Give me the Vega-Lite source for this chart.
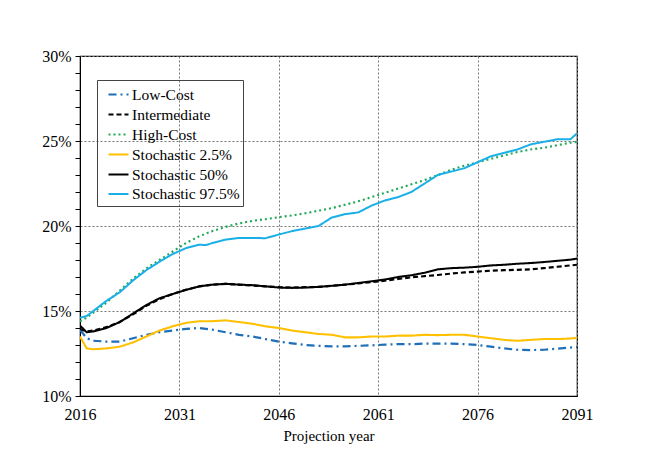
{
  "$schema": "https://vega.github.io/schema/vega-lite/v6.json",
  "width": 497,
  "height": 340,
  "autosize": {"type": "none"},
  "padding": {"left": 80, "top": 56, "right": 71, "bottom": 72},
  "background": "white",
  "config": {
    "font": "Liberation Serif",
    "view": {"stroke": "black", "strokeWidth": 1.2},
    "legend": {"rowPadding": -10, "symbolSize": 400, "symbolType": "stroke", "labelFontSize": 15.5}
  },
  "datasets": {
    "d": [
      {"s":"Low-Cost","yr":2016,"v":13.9},{"s":"Low-Cost","yr":2017,"v":13.4},{"s":"Low-Cost","yr":2018,"v":13.25},{"s":"Low-Cost","yr":2020,"v":13.2},{"s":"Low-Cost","yr":2022,"v":13.2},{"s":"Low-Cost","yr":2024,"v":13.4},{"s":"Low-Cost","yr":2026,"v":13.6},{"s":"Low-Cost","yr":2028,"v":13.75},{"s":"Low-Cost","yr":2030,"v":13.85},{"s":"Low-Cost","yr":2032,"v":13.95},{"s":"Low-Cost","yr":2034,"v":14.0},{"s":"Low-Cost","yr":2036,"v":13.9},{"s":"Low-Cost","yr":2038,"v":13.75},{"s":"Low-Cost","yr":2040,"v":13.6},{"s":"Low-Cost","yr":2042,"v":13.5},{"s":"Low-Cost","yr":2044,"v":13.35},{"s":"Low-Cost","yr":2046,"v":13.2},{"s":"Low-Cost","yr":2048,"v":13.1},{"s":"Low-Cost","yr":2050,"v":13.0},{"s":"Low-Cost","yr":2052,"v":12.95},{"s":"Low-Cost","yr":2054,"v":12.92},{"s":"Low-Cost","yr":2056,"v":12.92},{"s":"Low-Cost","yr":2058,"v":12.95},{"s":"Low-Cost","yr":2060,"v":12.98},{"s":"Low-Cost","yr":2062,"v":13.02},{"s":"Low-Cost","yr":2064,"v":13.05},{"s":"Low-Cost","yr":2066,"v":13.05},{"s":"Low-Cost","yr":2068,"v":13.08},{"s":"Low-Cost","yr":2070,"v":13.08},{"s":"Low-Cost","yr":2072,"v":13.08},{"s":"Low-Cost","yr":2074,"v":13.05},{"s":"Low-Cost","yr":2076,"v":13.0},{"s":"Low-Cost","yr":2078,"v":12.9},{"s":"Low-Cost","yr":2080,"v":12.8},{"s":"Low-Cost","yr":2082,"v":12.72},{"s":"Low-Cost","yr":2084,"v":12.7},{"s":"Low-Cost","yr":2086,"v":12.72},{"s":"Low-Cost","yr":2088,"v":12.78},{"s":"Low-Cost","yr":2090,"v":12.85},{"s":"Low-Cost","yr":2091,"v":12.88},

      {"s":"Intermediate","yr":2016,"v":13.95},{"s":"Intermediate","yr":2017,"v":13.8},{"s":"Intermediate","yr":2018,"v":13.85},{"s":"Intermediate","yr":2020,"v":14.05},{"s":"Intermediate","yr":2022,"v":14.35},{"s":"Intermediate","yr":2024,"v":14.8},{"s":"Intermediate","yr":2026,"v":15.3},{"s":"Intermediate","yr":2028,"v":15.7},{"s":"Intermediate","yr":2030,"v":16.0},{"s":"Intermediate","yr":2032,"v":16.25},{"s":"Intermediate","yr":2034,"v":16.45},{"s":"Intermediate","yr":2036,"v":16.55},{"s":"Intermediate","yr":2038,"v":16.6},{"s":"Intermediate","yr":2040,"v":16.55},{"s":"Intermediate","yr":2042,"v":16.5},{"s":"Intermediate","yr":2044,"v":16.45},{"s":"Intermediate","yr":2046,"v":16.4},{"s":"Intermediate","yr":2048,"v":16.38},{"s":"Intermediate","yr":2050,"v":16.4},{"s":"Intermediate","yr":2052,"v":16.42},{"s":"Intermediate","yr":2054,"v":16.48},{"s":"Intermediate","yr":2056,"v":16.55},{"s":"Intermediate","yr":2058,"v":16.62},{"s":"Intermediate","yr":2060,"v":16.7},{"s":"Intermediate","yr":2062,"v":16.78},{"s":"Intermediate","yr":2064,"v":16.88},{"s":"Intermediate","yr":2066,"v":16.98},{"s":"Intermediate","yr":2068,"v":17.05},{"s":"Intermediate","yr":2070,"v":17.12},{"s":"Intermediate","yr":2072,"v":17.2},{"s":"Intermediate","yr":2074,"v":17.27},{"s":"Intermediate","yr":2076,"v":17.32},{"s":"Intermediate","yr":2078,"v":17.37},{"s":"Intermediate","yr":2080,"v":17.4},{"s":"Intermediate","yr":2082,"v":17.42},{"s":"Intermediate","yr":2084,"v":17.45},{"s":"Intermediate","yr":2086,"v":17.52},{"s":"Intermediate","yr":2088,"v":17.6},{"s":"Intermediate","yr":2090,"v":17.68},{"s":"Intermediate","yr":2091,"v":17.72},

      {"s":"High-Cost","yr":2016,"v":14.4},{"s":"High-Cost","yr":2017,"v":14.6},{"s":"High-Cost","yr":2018,"v":14.9},{"s":"High-Cost","yr":2020,"v":15.5},{"s":"High-Cost","yr":2022,"v":16.2},{"s":"High-Cost","yr":2024,"v":16.9},{"s":"High-Cost","yr":2026,"v":17.5},{"s":"High-Cost","yr":2028,"v":18.0},{"s":"High-Cost","yr":2030,"v":18.5},{"s":"High-Cost","yr":2032,"v":19.0},{"s":"High-Cost","yr":2034,"v":19.4},{"s":"High-Cost","yr":2036,"v":19.7},{"s":"High-Cost","yr":2038,"v":19.95},{"s":"High-Cost","yr":2040,"v":20.15},{"s":"High-Cost","yr":2042,"v":20.3},{"s":"High-Cost","yr":2044,"v":20.4},{"s":"High-Cost","yr":2046,"v":20.52},{"s":"High-Cost","yr":2048,"v":20.62},{"s":"High-Cost","yr":2050,"v":20.75},{"s":"High-Cost","yr":2052,"v":20.9},{"s":"High-Cost","yr":2054,"v":21.05},{"s":"High-Cost","yr":2056,"v":21.25},{"s":"High-Cost","yr":2058,"v":21.45},{"s":"High-Cost","yr":2060,"v":21.7},{"s":"High-Cost","yr":2062,"v":21.95},{"s":"High-Cost","yr":2064,"v":22.2},{"s":"High-Cost","yr":2066,"v":22.45},{"s":"High-Cost","yr":2068,"v":22.7},{"s":"High-Cost","yr":2070,"v":23.0},{"s":"High-Cost","yr":2072,"v":23.3},{"s":"High-Cost","yr":2074,"v":23.55},{"s":"High-Cost","yr":2076,"v":23.75},{"s":"High-Cost","yr":2078,"v":23.95},{"s":"High-Cost","yr":2080,"v":24.15},{"s":"High-Cost","yr":2082,"v":24.35},{"s":"High-Cost","yr":2084,"v":24.5},{"s":"High-Cost","yr":2086,"v":24.6},{"s":"High-Cost","yr":2088,"v":24.75},{"s":"High-Cost","yr":2090,"v":24.9},{"s":"High-Cost","yr":2091,"v":24.95},

      {"s":"Stochastic 2.5%","yr":2016,"v":13.5},{"s":"Stochastic 2.5%","yr":2017,"v":12.8},{"s":"Stochastic 2.5%","yr":2018,"v":12.75},{"s":"Stochastic 2.5%","yr":2020,"v":12.8},{"s":"Stochastic 2.5%","yr":2022,"v":12.9},{"s":"Stochastic 2.5%","yr":2024,"v":13.15},{"s":"Stochastic 2.5%","yr":2026,"v":13.5},{"s":"Stochastic 2.5%","yr":2028,"v":13.85},{"s":"Stochastic 2.5%","yr":2030,"v":14.1},{"s":"Stochastic 2.5%","yr":2032,"v":14.3},{"s":"Stochastic 2.5%","yr":2034,"v":14.4},{"s":"Stochastic 2.5%","yr":2036,"v":14.4},{"s":"Stochastic 2.5%","yr":2038,"v":14.45},{"s":"Stochastic 2.5%","yr":2040,"v":14.35},{"s":"Stochastic 2.5%","yr":2042,"v":14.25},{"s":"Stochastic 2.5%","yr":2044,"v":14.1},{"s":"Stochastic 2.5%","yr":2046,"v":14.0},{"s":"Stochastic 2.5%","yr":2048,"v":13.85},{"s":"Stochastic 2.5%","yr":2050,"v":13.75},{"s":"Stochastic 2.5%","yr":2052,"v":13.65},{"s":"Stochastic 2.5%","yr":2054,"v":13.6},{"s":"Stochastic 2.5%","yr":2056,"v":13.45},{"s":"Stochastic 2.5%","yr":2058,"v":13.45},{"s":"Stochastic 2.5%","yr":2060,"v":13.5},{"s":"Stochastic 2.5%","yr":2062,"v":13.5},{"s":"Stochastic 2.5%","yr":2064,"v":13.55},{"s":"Stochastic 2.5%","yr":2066,"v":13.55},{"s":"Stochastic 2.5%","yr":2068,"v":13.6},{"s":"Stochastic 2.5%","yr":2070,"v":13.58},{"s":"Stochastic 2.5%","yr":2072,"v":13.6},{"s":"Stochastic 2.5%","yr":2074,"v":13.6},{"s":"Stochastic 2.5%","yr":2076,"v":13.5},{"s":"Stochastic 2.5%","yr":2078,"v":13.4},{"s":"Stochastic 2.5%","yr":2080,"v":13.3},{"s":"Stochastic 2.5%","yr":2082,"v":13.25},{"s":"Stochastic 2.5%","yr":2084,"v":13.3},{"s":"Stochastic 2.5%","yr":2086,"v":13.35},{"s":"Stochastic 2.5%","yr":2088,"v":13.35},{"s":"Stochastic 2.5%","yr":2090,"v":13.38},{"s":"Stochastic 2.5%","yr":2091,"v":13.42},

      {"s":"Stochastic 50%","yr":2016,"v":14.15},{"s":"Stochastic 50%","yr":2017,"v":13.75},{"s":"Stochastic 50%","yr":2018,"v":13.8},{"s":"Stochastic 50%","yr":2020,"v":14.0},{"s":"Stochastic 50%","yr":2022,"v":14.35},{"s":"Stochastic 50%","yr":2024,"v":14.85},{"s":"Stochastic 50%","yr":2026,"v":15.35},{"s":"Stochastic 50%","yr":2028,"v":15.75},{"s":"Stochastic 50%","yr":2030,"v":16.0},{"s":"Stochastic 50%","yr":2032,"v":16.25},{"s":"Stochastic 50%","yr":2034,"v":16.45},{"s":"Stochastic 50%","yr":2036,"v":16.55},{"s":"Stochastic 50%","yr":2038,"v":16.6},{"s":"Stochastic 50%","yr":2040,"v":16.55},{"s":"Stochastic 50%","yr":2042,"v":16.52},{"s":"Stochastic 50%","yr":2044,"v":16.45},{"s":"Stochastic 50%","yr":2046,"v":16.38},{"s":"Stochastic 50%","yr":2048,"v":16.36},{"s":"Stochastic 50%","yr":2050,"v":16.38},{"s":"Stochastic 50%","yr":2052,"v":16.42},{"s":"Stochastic 50%","yr":2054,"v":16.48},{"s":"Stochastic 50%","yr":2056,"v":16.55},{"s":"Stochastic 50%","yr":2058,"v":16.65},{"s":"Stochastic 50%","yr":2060,"v":16.75},{"s":"Stochastic 50%","yr":2062,"v":16.85},{"s":"Stochastic 50%","yr":2064,"v":17.0},{"s":"Stochastic 50%","yr":2066,"v":17.1},{"s":"Stochastic 50%","yr":2068,"v":17.25},{"s":"Stochastic 50%","yr":2070,"v":17.45},{"s":"Stochastic 50%","yr":2072,"v":17.52},{"s":"Stochastic 50%","yr":2074,"v":17.55},{"s":"Stochastic 50%","yr":2076,"v":17.6},{"s":"Stochastic 50%","yr":2078,"v":17.68},{"s":"Stochastic 50%","yr":2080,"v":17.72},{"s":"Stochastic 50%","yr":2082,"v":17.78},{"s":"Stochastic 50%","yr":2084,"v":17.82},{"s":"Stochastic 50%","yr":2086,"v":17.88},{"s":"Stochastic 50%","yr":2088,"v":17.95},{"s":"Stochastic 50%","yr":2090,"v":18.02},{"s":"Stochastic 50%","yr":2091,"v":18.08},

      {"s":"Stochastic 97.5%","yr":2016,"v":14.6},{"s":"Stochastic 97.5%","yr":2017,"v":14.7},{"s":"Stochastic 97.5%","yr":2018,"v":15.0},{"s":"Stochastic 97.5%","yr":2020,"v":15.6},{"s":"Stochastic 97.5%","yr":2022,"v":16.1},{"s":"Stochastic 97.5%","yr":2024,"v":16.8},{"s":"Stochastic 97.5%","yr":2026,"v":17.4},{"s":"Stochastic 97.5%","yr":2028,"v":17.9},{"s":"Stochastic 97.5%","yr":2030,"v":18.35},{"s":"Stochastic 97.5%","yr":2032,"v":18.7},{"s":"Stochastic 97.5%","yr":2034,"v":18.9},{"s":"Stochastic 97.5%","yr":2035,"v":18.88},{"s":"Stochastic 97.5%","yr":2036,"v":19.0},{"s":"Stochastic 97.5%","yr":2038,"v":19.2},{"s":"Stochastic 97.5%","yr":2040,"v":19.3},{"s":"Stochastic 97.5%","yr":2042,"v":19.3},{"s":"Stochastic 97.5%","yr":2044,"v":19.28},{"s":"Stochastic 97.5%","yr":2046,"v":19.5},{"s":"Stochastic 97.5%","yr":2048,"v":19.7},{"s":"Stochastic 97.5%","yr":2050,"v":19.85},{"s":"Stochastic 97.5%","yr":2052,"v":20.0},{"s":"Stochastic 97.5%","yr":2054,"v":20.5},{"s":"Stochastic 97.5%","yr":2056,"v":20.7},{"s":"Stochastic 97.5%","yr":2058,"v":20.8},{"s":"Stochastic 97.5%","yr":2060,"v":21.2},{"s":"Stochastic 97.5%","yr":2062,"v":21.5},{"s":"Stochastic 97.5%","yr":2064,"v":21.7},{"s":"Stochastic 97.5%","yr":2066,"v":22.0},{"s":"Stochastic 97.5%","yr":2068,"v":22.5},{"s":"Stochastic 97.5%","yr":2070,"v":23.0},{"s":"Stochastic 97.5%","yr":2072,"v":23.2},{"s":"Stochastic 97.5%","yr":2074,"v":23.4},{"s":"Stochastic 97.5%","yr":2076,"v":23.75},{"s":"Stochastic 97.5%","yr":2078,"v":24.1},{"s":"Stochastic 97.5%","yr":2080,"v":24.3},{"s":"Stochastic 97.5%","yr":2082,"v":24.5},{"s":"Stochastic 97.5%","yr":2084,"v":24.8},{"s":"Stochastic 97.5%","yr":2086,"v":24.95},{"s":"Stochastic 97.5%","yr":2088,"v":25.1},{"s":"Stochastic 97.5%","yr":2090,"v":25.1},{"s":"Stochastic 97.5%","yr":2091,"v":25.45}
    ]
  },
  "data": {"name": "d"},
  "mark": {"type": "line", "clip": true},
  "encoding": {
    "x": {
      "field": "yr", "type": "quantitative",
      "scale": {"domain": [2016, 2091], "nice": false, "zero": false},
      "axis": {
        "values": [2016, 2031, 2046, 2061, 2076, 2091],
        "format": "d",
        "title": "Projection year",
        "titleFont": "Liberation Serif", "titleFontSize": 15, "titleFontWeight": "normal", "titleColor": "black",
        "titlePadding": 6,
        "labelFont": "Liberation Serif", "labelFontSize": 16, "labelColor": "black",
        "labelPadding": 10,
        "labelFlush": false,
        "ticks": false,
        "domainColor": "black",
        "grid": true, "gridColor": "#777", "gridDash": [2, 2], "gridWidth": 1
      }
    },
    "y": {
      "field": "v", "type": "quantitative",
      "scale": {"domain": [10, 30], "nice": false, "zero": false},
      "axis": {
        "values": [10,11,12,13,14,15,16,17,18,19,20,21,22,23,24,25,26,27,28,29,30],
        "labelExpr": "datum.value % 5 == 0 ? datum.value + '%' : ''",
        "title": null,
        "labelFont": "Liberation Serif", "labelFontSize": 16, "labelColor": "black",
        "labelPadding": 4,
        "labelFlush": false,
        "tickColor": "black", "tickSize": 5,
        "domainColor": "black",
        "grid": true, "gridColor": "#777", "gridDash": [2, 2], "gridWidth": 1,
        "gridOpacity": {"condition": {"test": "datum.value % 5 == 0", "value": 1}, "value": 0}
      }
    },
    "color": {
      "field": "s", "type": "nominal",
      "scale": {
        "domain": ["Low-Cost", "Intermediate", "High-Cost", "Stochastic 2.5%", "Stochastic 50%", "Stochastic 97.5%"],
        "range": ["#1F6EB8", "#000000", "#20A858", "#FFC000", "#000000", "#1AAFE6"]
      },
      "legend": {
        "title": null,
        "orient": "none",
        "legendX": 17,
        "legendY": 24,
        "strokeColor": "#444",
        "padding": 3,
        "symbolOffset": 7,
        "labelFont": "Liberation Serif", "labelFontSize": 15.5, "labelColor": "black",
        "labelOffset": 2,
        "symbolType": "stroke",
        "symbolSize": 400,
        "rowPadding": -10
      }
    },
    "strokeDash": {
      "field": "s", "type": "nominal",
      "scale": {
        "domain": ["Low-Cost", "Intermediate", "High-Cost", "Stochastic 2.5%", "Stochastic 50%", "Stochastic 97.5%"],
        "range": [[8, 4, 2, 4], [5, 3], [2, 3], [1, 0], [1, 0], [1, 0]]
      },
      "legend": {
        "title": null, "orient": "none", "legendX": 17, "legendY": 24,
        "strokeColor": "#444", "padding": 3, "symbolOffset": 7,
        "labelFont": "Liberation Serif", "labelFontSize": 15.5, "labelColor": "black",
        "labelOffset": 2, "symbolType": "stroke", "symbolSize": 400, "rowPadding": -10
      }
    },
    "strokeWidth": {
      "field": "s", "type": "nominal",
      "scale": {
        "domain": ["Low-Cost", "Intermediate", "High-Cost", "Stochastic 2.5%", "Stochastic 50%", "Stochastic 97.5%"],
        "range": [2.2, 2, 2.2, 3, 3, 3]
      },
      "legend": {
        "title": null, "orient": "none", "legendX": 17, "legendY": 24,
        "strokeColor": "#444", "padding": 3, "symbolOffset": 7,
        "labelFont": "Liberation Serif", "labelFontSize": 15.5, "labelColor": "black",
        "labelOffset": 2, "symbolType": "stroke", "symbolSize": 400, "rowPadding": -10
      }
    }
  }
}
